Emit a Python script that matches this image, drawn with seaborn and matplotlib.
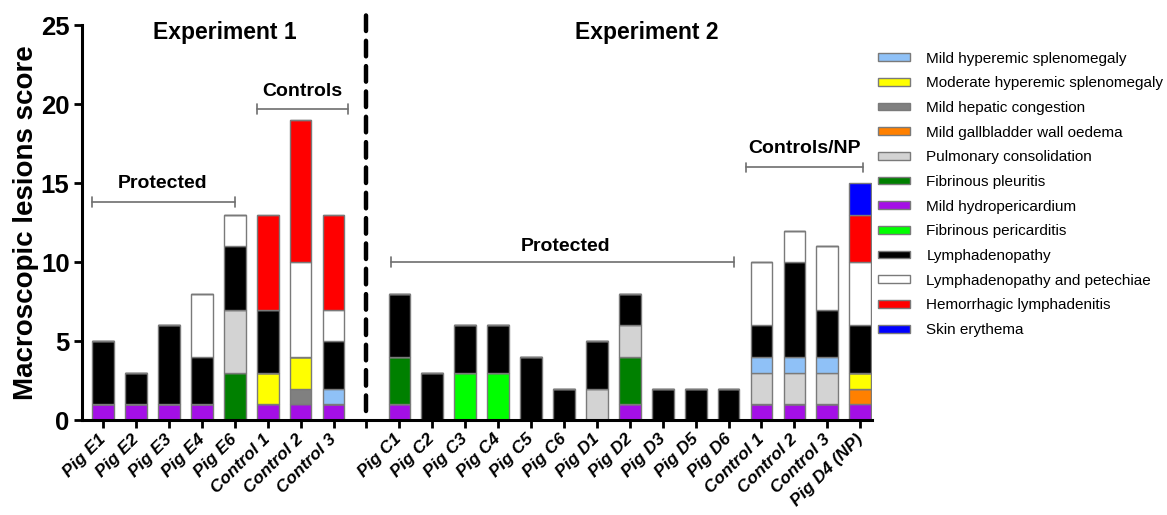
import numpy as np
import pandas as pd
import matplotlib
matplotlib.use("Agg")
import matplotlib.pyplot as plt
import seaborn as sns
from matplotlib.patches import Patch

# ---------------- data ----------------
labels = ["Pig E1", "Pig E2", "Pig E3", "Pig E4", "Pig E6", "Control 1", "Control 2", "Control 3", "",
          "Pig C1", "Pig C2", "Pig C3", "Pig C4", "Pig C5", "Pig C6", "Pig D1", "Pig D2", "Pig D3",
          "Pig D5", "Pig D6", "Control 1", "Control 2", "Control 3", "Pig D4 (NP)"]

mild_hydropericardium = [1, 1, 1, 1, 0, 1, 1, 1, 0, 1, 0, 0, 0, 0, 0, 0, 1, 0, 0, 0, 1, 1, 1, 1]
gallbladder_oedema    = [0, 0, 0, 0, 0, 0, 0, 0, 0, 0, 0, 0, 0, 0, 0, 0, 0, 0, 0, 0, 0, 0, 0, 1]
hepatic_congestion    = [0, 0, 0, 0, 0, 0, 1, 0, 0, 0, 0, 0, 0, 0, 0, 0, 0, 0, 0, 0, 0, 0, 0, 0]
moderate_splenomegaly = [0, 0, 0, 0, 0, 2, 2, 0, 0, 0, 0, 0, 0, 0, 0, 0, 0, 0, 0, 0, 0, 0, 0, 1]
fibrinous_pleuritis   = [0, 0, 0, 0, 3, 0, 0, 0, 0, 3, 0, 0, 0, 0, 0, 0, 3, 0, 0, 0, 0, 0, 0, 0]
fibrinous_pericarditis= [0, 0, 0, 0, 0, 0, 0, 0, 0, 0, 0, 3, 3, 0, 0, 0, 0, 0, 0, 0, 0, 0, 0, 0]
pulmonary_consol      = [0, 0, 0, 0, 4, 0, 0, 0, 0, 0, 0, 0, 0, 0, 0, 2, 2, 0, 0, 0, 2, 2, 2, 0]
mild_splenomegaly     = [0, 0, 0, 0, 0, 0, 0, 1, 0, 0, 0, 0, 0, 0, 0, 0, 0, 0, 0, 0, 1, 1, 1, 0]
lymphadenopathy       = [4, 2, 5, 3, 4, 4, 0, 3, 0, 4, 3, 3, 3, 4, 2, 3, 2, 2, 2, 2, 2, 6, 3, 3]
lymph_petechiae       = [0, 0, 0, 4, 2, 0, 6, 2, 0, 0, 0, 0, 0, 0, 0, 0, 0, 0, 0, 0, 4, 2, 4, 4]
hemorrhagic_lymph     = [0, 0, 0, 0, 0, 6, 9, 6, 0, 0, 0, 0, 0, 0, 0, 0, 0, 0, 0, 0, 0, 0, 0, 3]
skin_erythema         = [0, 0, 0, 0, 0, 0, 0, 0, 0, 0, 0, 0, 0, 0, 0, 0, 0, 0, 0, 0, 0, 0, 0, 2]

# stacking order, bottom -> top
stack_names = ["Mild hydropericardium", "Mild gallbladder wall oedema", "Mild hepatic congestion",
               "Moderate hyperemic splenomegaly", "Fibrinous pleuritis", "Fibrinous pericarditis",
               "Pulmonary consolidation", "Mild hyperemic splenomegaly", "Lymphadenopathy",
               "Lymphadenopathy and petechiae", "Hemorrhagic lymphadenitis", "Skin erythema"]
stack_values = [mild_hydropericardium, gallbladder_oedema, hepatic_congestion, moderate_splenomegaly,
                fibrinous_pleuritis, fibrinous_pericarditis, pulmonary_consol, mild_splenomegaly,
                lymphadenopathy, lymph_petechiae, hemorrhagic_lymph, skin_erythema]

legend_order = ["Mild hyperemic splenomegaly", "Moderate hyperemic splenomegaly", "Mild hepatic congestion",
                "Mild gallbladder wall oedema", "Pulmonary consolidation", "Fibrinous pleuritis",
                "Mild hydropericardium", "Fibrinous pericarditis", "Lymphadenopathy",
                "Lymphadenopathy and petechiae", "Hemorrhagic lymphadenitis", "Skin erythema"]

colors = {
    "Mild hyperemic splenomegaly": "#8fc1f7",
    "Moderate hyperemic splenomegaly": "#ffff00",
    "Mild hepatic congestion": "#808080",
    "Mild gallbladder wall oedema": "#ff8000",
    "Pulmonary consolidation": "#d3d3d3",
    "Fibrinous pleuritis": "#008000",
    "Mild hydropericardium": "#a40fe6",
    "Fibrinous pericarditis": "#00ff00",
    "Lymphadenopathy": "#000000",
    "Lymphadenopathy and petechiae": "#ffffff",
    "Hemorrhagic lymphadenitis": "#ff0000",
    "Skin erythema": "#0000ff",
}

rows = []
for name, vals in zip(stack_names, stack_values):
    for pos, v in enumerate(vals):
        rows.append({"pos": pos, "lesion": name, "score": v})
df = pd.DataFrame(rows)

# ---------------- plot ----------------
sns.set_style("white")
plt.rcParams['font.family'] = ['Liberation Sans', 'DejaVu Sans']
plt.rcParams['text.color'] = 'black'
plt.rcParams['axes.labelcolor'] = 'black'
plt.rcParams['xtick.color'] = 'black'
plt.rcParams['ytick.color'] = 'black'

fig = plt.figure(figsize=(11.67, 5.15), dpi=100)
ax = fig.add_axes([0.0703, 0.184, 0.677, 0.767])

edge = "#7a7a7a"
sns.histplot(data=df, x="pos", weights="score", hue="lesion", hue_order=stack_names[::-1],
             multiple="stack", discrete=True, shrink=0.66, palette=colors, alpha=1,
             edgecolor=edge, linewidth=1.0, legend=False, ax=ax)

ax.set_xlim(-0.64, 23.36)
ax.set_ylim(0, 25)
ax.set_xticks(range(len(labels)))
ax.set_xticklabels(labels, rotation=45, ha="right", va="center", rotation_mode="anchor",
                   fontsize=12.5, fontweight="bold", fontstyle="italic")
ax.set_yticks([0, 5, 10, 15, 20, 25])
ax.set_yticklabels(["0", "5", "10", "15", "20", "25"], fontsize=18.5, fontweight="bold")
ax.tick_params(axis="both", direction="out", length=6, width=2, colors="black", pad=3,
               bottom=True, left=True)
ax.tick_params(axis="x", pad=6)
ax.set_xlabel("")
ax.set_ylabel("Macroscopic lesions score", fontsize=20, fontweight="bold", labelpad=1)
for s in ["top", "right"]:
    ax.spines[s].set_visible(False)
for s in ["left", "bottom"]:
    ax.spines[s].set_linewidth(2.2)
    ax.spines[s].set_color("black")

# dashed separator
ax.plot([8, 8], [0.6, 25.8], color="black", lw=3.2, ls=(0, (3.5, 2.2)), clip_on=False,
        solid_capstyle="butt", dash_capstyle="round")

# brackets
bcol = "#6e6e6e"
def bracket(x0, x1, y, cap=0.3):
    ax.plot([x0, x1], [y, y], color=bcol, lw=1.2, clip_on=False)
    ax.plot([x0, x0], [y - cap, y + cap], color=bcol, lw=1.2, clip_on=False)
    ax.plot([x1, x1], [y - cap, y + cap], color=bcol, lw=1.2, clip_on=False)

bracket(-0.33, 4.0, 13.8)
bracket(4.68, 7.45, 19.7)
bracket(8.75, 19.18, 10.0)
bracket(19.54, 23.07, 16.0)

ax.text(1.82, 15.0, "Protected", ha="center", va="center", fontsize=14, fontweight="bold")
ax.text(6.05, 20.8, "Controls", ha="center", va="center", fontsize=14, fontweight="bold")
ax.text(14.04, 11.0, "Protected", ha="center", va="center", fontsize=14, fontweight="bold")
ax.text(21.3, 17.2, "Controls/NP", ha="center", va="center", fontsize=14, fontweight="bold")
ax.text(3.7, 24.55, "Experiment 1", ha="center", va="center", fontsize=16.5, fontweight="bold")
ax.text(16.5, 24.55, "Experiment 2", ha="center", va="center", fontsize=16.5, fontweight="bold")

handles = [Patch(facecolor=colors[n], edgecolor=edge, linewidth=1.0, label=n) for n in legend_order]
fig.legend(handles=handles, loc="upper left", bbox_to_anchor=(0.752, 0.900), frameon=False,
           fontsize=11, handlelength=2.1, handleheight=0.4, handletextpad=1.1,
           labelspacing=0.70, borderaxespad=0, borderpad=0)

fig.savefig("out.png", dpi=100)
